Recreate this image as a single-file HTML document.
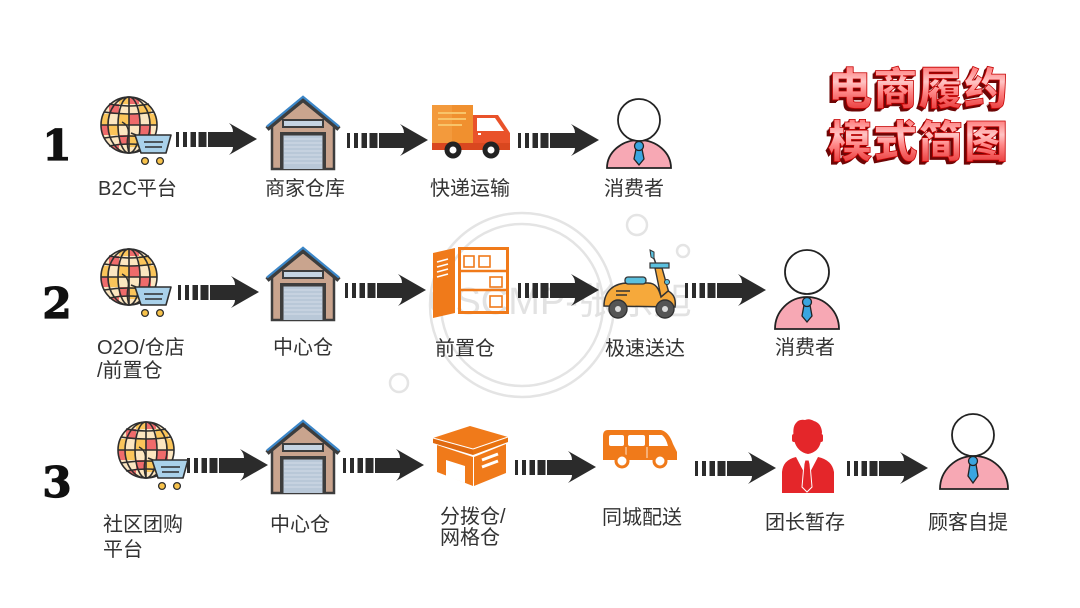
<!DOCTYPE html>
<html><head><meta charset="utf-8"><style>
html,body{margin:0;padding:0;background:#fff;}
svg{display:block;}
text{font-family:"Liberation Sans","Noto Sans CJK SC",sans-serif;}
</style></head><body>
<svg width="1080" height="608" viewBox="0 0 1080 608" xmlns="http://www.w3.org/2000/svg">
<defs>
 <clipPath id="gc"><circle cx="29" cy="29" r="28"/></clipPath>
 <g id="arr" fill="#2b2b2b">
  <rect x="0" y="9" width="3" height="15"/>
  <rect x="7" y="9" width="4" height="15"/>
  <rect x="14.5" y="9" width="5.5" height="15"/>
  <rect x="22.5" y="9" width="8" height="15"/>
  <path d="M32,9 L57,9 Q57,4 53,0 L81,16 L53,32 Q57,28 57,24 L32,24 Z"/>
 </g>
 <g id="globe">
  <g clip-path="url(#gc)">
   <rect x="0" y="0" width="60" height="60" fill="#fce6c0"/>
   <g fill="#ef6b6b">
    <rect x="9" y="8" width="10" height="10"/>
    <rect x="29" y="18" width="10" height="11"/>
    <rect x="0" y="29" width="9" height="10"/>
    <rect x="19" y="39" width="10" height="10"/>
    <rect x="39" y="29" width="12" height="10"/>
    <rect x="29" y="0" width="10" height="8"/>
    <rect x="9" y="49" width="10" height="10"/>
   </g>
   <g fill="#fbc55a">
    <rect x="19" y="0" width="10" height="8"/>
    <rect x="39" y="8" width="12" height="10"/>
    <rect x="9" y="29" width="10" height="10"/>
    <rect x="29" y="39" width="10" height="12"/>
    <rect x="0" y="18" width="9" height="11"/>
    <rect x="19" y="18" width="10" height="11"/>
    <rect x="49" y="18" width="10" height="11"/>
   </g>
  </g>
  <g fill="none" stroke="#2e2e2e" stroke-width="1.6">
   <circle cx="29" cy="29" r="28"/>
   <ellipse cx="29" cy="29" rx="11" ry="28"/>
   <ellipse cx="29" cy="29" rx="21" ry="28"/>
   <line x1="29" y1="1" x2="29" y2="57"/>
   <path d="M4,16 Q29,20 54,16"/>
   <path d="M1,29 L57,29"/>
   <path d="M4,42 Q29,38 54,42"/>
   <path d="M9,8 Q29,12 49,8"/>
   <path d="M9,50 Q29,46 49,50"/>
   <path d="M22,26 Q30,30 28,40 Q26,48 29,57" stroke-width="1.4"/>
  </g>
  <polygon points="35,39 71,39 66,57 41,57" fill="#a9d1ea" stroke="#2e2e2e" stroke-width="1.6" stroke-linejoin="round"/>
  <line x1="31" y1="37" x2="36" y2="39" stroke="#2e2e2e" stroke-width="1.6"/>
  <line x1="44" y1="46" x2="63" y2="46" stroke="#2e2e2e" stroke-width="1.4"/>
  <line x1="45" y1="51" x2="62" y2="51" stroke="#2e2e2e" stroke-width="1.4"/>
  <circle cx="45" cy="65" r="3.4" fill="#f7c24a" stroke="#2e2e2e" stroke-width="1.3"/>
  <circle cx="60" cy="65" r="3.4" fill="#f7c24a" stroke="#2e2e2e" stroke-width="1.3"/>
 </g>
 <g id="wh">
  <polygon points="6,30 37,5 68,30 68,73 6,73" fill="#c9a48e" stroke="#3d3d3d" stroke-width="2.5"/>
  <polyline points="1,33 37,3 73,33" fill="none" stroke="#3d3d3d" stroke-width="5" stroke-linejoin="miter"/>
  <polyline points="1,30.5 37,0.8 73,30.5" fill="none" stroke="#3b86c8" stroke-width="2.2"/>
  <rect x="17" y="24" width="40" height="7" fill="#c6d4e2" stroke="#3d3d3d" stroke-width="2"/>
  <rect x="14" y="36" width="46" height="37" fill="#3d3d3d"/>
  <rect x="17.5" y="39.5" width="39" height="33.5" fill="#b9c8d8"/>
  <g stroke="#d3dde8" stroke-width="1">
   <line x1="18" y1="43" x2="56" y2="43"/><line x1="18" y1="47" x2="56" y2="47"/>
   <line x1="18" y1="51" x2="56" y2="51"/><line x1="18" y1="55" x2="56" y2="55"/>
   <line x1="18" y1="59" x2="56" y2="59"/><line x1="18" y1="63" x2="56" y2="63"/>
   <line x1="18" y1="67" x2="56" y2="67"/>
  </g>
 </g>
 <linearGradient id="tg" x1="0" y1="0" x2="0" y2="1">
  <stop offset="0" stop-color="#ff3a3a"/>
  <stop offset="0.45" stop-color="#ffc4c4"/>
  <stop offset="0.6" stop-color="#ff8a8a"/>
  <stop offset="1" stop-color="#e21d1d"/>
 </linearGradient>
</defs>

<rect width="1080" height="608" fill="#fff"/>

<!-- watermark -->
<g fill="none" stroke="#e4e4e4" stroke-width="2.5">
 <circle cx="522" cy="305" r="92"/>
 <circle cx="522" cy="305" r="81"/>
 <circle cx="399" cy="383" r="9"/>
 <circle cx="637" cy="225" r="10"/>
 <circle cx="683" cy="251" r="6"/>
</g>
<text x="428" y="314" font-size="38" fill="#e2e2e2">CSCMP-张东旭</text>

<!-- numbers -->
<g font-weight="bold" font-size="42" fill="#111" stroke="#111" stroke-width="1.2" text-anchor="middle">
 <text x="57" y="160" style="font-family:'DejaVu Serif','Liberation Serif',serif">1</text>
 <text x="57" y="318" style="font-family:'DejaVu Serif','Liberation Serif',serif">2</text>
 <text x="57" y="497" style="font-family:'DejaVu Serif','Liberation Serif',serif">3</text>
</g>

<!-- title -->
<g font-size="44" font-weight="900" style="font-family:'Noto Sans CJK SC',sans-serif">
 <g fill="#6e0606">
  <text x="827" y="105" textLength="180" lengthAdjust="spacing" style="font-family:'Noto Sans CJK SC',sans-serif">电商履约</text>
  <text x="826" y="106" textLength="180" lengthAdjust="spacing" style="font-family:'Noto Sans CJK SC',sans-serif">电商履约</text>
  <text x="825" y="107" textLength="180" lengthAdjust="spacing" style="font-family:'Noto Sans CJK SC',sans-serif">电商履约</text>
  <text x="827" y="158" textLength="180" lengthAdjust="spacing" style="font-family:'Noto Sans CJK SC',sans-serif">模式简图</text>
  <text x="826" y="159" textLength="180" lengthAdjust="spacing" style="font-family:'Noto Sans CJK SC',sans-serif">模式简图</text>
  <text x="825" y="160" textLength="180" lengthAdjust="spacing" style="font-family:'Noto Sans CJK SC',sans-serif">模式简图</text>
 </g>
 <g fill="url(#tg)" stroke="#c40000" stroke-width="0.8">
  <text x="828" y="104" textLength="180" lengthAdjust="spacing" style="font-family:'Noto Sans CJK SC',sans-serif">电商履约</text>
  <text x="828" y="157" textLength="180" lengthAdjust="spacing" style="font-family:'Noto Sans CJK SC',sans-serif">模式简图</text>
 </g>
</g>

<!-- arrows -->
<use href="#arr" x="176" y="123"/>
<use href="#arr" x="347" y="124"/>
<use href="#arr" x="518" y="124"/>
<use href="#arr" x="178" y="276"/>
<use href="#arr" x="345" y="274"/>
<use href="#arr" x="518" y="274"/>
<use href="#arr" x="685" y="274"/>
<use href="#arr" x="187" y="449"/>
<use href="#arr" x="343" y="449"/>
<use href="#arr" x="515" y="451"/>
<use href="#arr" x="695" y="452"/>
<use href="#arr" x="847" y="452"/>

<!-- globes -->
<use href="#globe" x="100" y="96"/>
<use href="#globe" x="100" y="248"/>
<use href="#globe" x="117" y="421"/>

<!-- warehouses -->
<use href="#wh" x="266" y="96"/>
<use href="#wh" x="266" y="247"/>
<use href="#wh" x="266" y="420"/>

<!-- truck -->
<rect x="432" y="105" width="41" height="39" fill="#f39a3c"/>
<rect x="452" y="105" width="21" height="39" fill="#f0902f"/>
<g stroke="#f8c46a" stroke-width="2">
 <line x1="438" y1="113" x2="466" y2="113"/>
 <line x1="438" y1="119" x2="466" y2="119"/>
 <line x1="438" y1="125" x2="462" y2="125"/>
</g>
<path d="M473,115 L498,115 L510,133 L510,150 L473,150 Z" fill="#e9522a"/>
<path d="M477,118 L495,118 L504,131 L477,131 Z" fill="#fff"/>
<rect x="478" y="133" width="3" height="2" fill="#fff"/>
<rect x="432" y="143" width="78" height="7" fill="#d9471f"/>
<circle cx="453" cy="150" r="8.5" fill="#222"/><circle cx="453" cy="150" r="3.5" fill="#fff"/>
<circle cx="491" cy="150" r="8.5" fill="#222"/><circle cx="491" cy="150" r="3.5" fill="#fff"/>

<!-- consumer 1 -->
<path d="M607,168 A32,28 0 0 1 671,168 Z" fill="#f7a8b4" stroke="#222" stroke-width="1.8"/>
<circle cx="639" cy="120" r="21" fill="#fff" stroke="#222" stroke-width="1.8"/>
<polygon points="636,149 642,149 644,159 639,165 634,159" fill="#3aa5e0" stroke="#222" stroke-width="1.3"/>
<circle cx="639" cy="146" r="4.5" fill="#3aa5e0" stroke="#222" stroke-width="1.3"/>

<!-- consumer 2 -->
<path d="M775,329 A32,32 0 0 1 839,329 Z" fill="#f7a8b4" stroke="#222" stroke-width="1.8"/>
<circle cx="807" cy="272" r="22" fill="#fff" stroke="#222" stroke-width="1.8"/>
<polygon points="804,305 810,305 812,316 807,322 802,316" fill="#3aa5e0" stroke="#222" stroke-width="1.3"/>
<circle cx="807" cy="302" r="4.5" fill="#3aa5e0" stroke="#222" stroke-width="1.3"/>

<!-- consumer 3 -->
<path d="M940,489 A34,33 0 0 1 1008,489 Z" fill="#f7a8b4" stroke="#222" stroke-width="1.8"/>
<circle cx="973" cy="435" r="21" fill="#fff" stroke="#222" stroke-width="1.8"/>
<polygon points="970,464 976,464 978,476 973,483 968,476" fill="#3aa5e0" stroke="#222" stroke-width="1.3"/>
<circle cx="973" cy="461" r="4.5" fill="#3aa5e0" stroke="#222" stroke-width="1.3"/>

<!-- front warehouse -->
<polygon points="433,253 455,248 455,313 433,318" fill="#f07a1a"/>
<g stroke="#fff" stroke-width="1.6">
 <line x1="437" y1="262" x2="448" y2="259"/>
 <line x1="437" y1="267" x2="448" y2="264"/>
 <line x1="437" y1="272" x2="448" y2="269"/>
 <line x1="437" y1="277" x2="448" y2="274"/>
</g>
<rect x="459.5" y="248.5" width="48" height="64" fill="none" stroke="#f07a1a" stroke-width="3"/>
<line x1="459" y1="271" x2="508" y2="271" stroke="#f07a1a" stroke-width="2.5"/>
<line x1="459" y1="290" x2="508" y2="290" stroke="#f07a1a" stroke-width="2.5"/>
<g fill="none" stroke="#f07a1a" stroke-width="1.6">
 <rect x="464" y="256" width="10" height="11"/>
 <rect x="479" y="256" width="11" height="11"/>
 <rect x="490" y="277" width="12" height="10"/>
 <rect x="490" y="296" width="12" height="11"/>
</g>

<!-- scooter -->
<path d="M655,268 L662,268 L669,293 L661,297 Z" fill="#f6a93b" stroke="#333" stroke-width="1.4"/>
<path d="M604,306 C604,291 614,283 628,283 L648,283 C656,283 659,289 661,297 L668,291 C674,294 676,300 675,307 Z" fill="#f6a93b" stroke="#333" stroke-width="1.5"/>
<rect x="625" y="277" width="21" height="7" rx="3" fill="#5bc0de" stroke="#333" stroke-width="1.3"/>
<line x1="656" y1="264" x2="652" y2="253" stroke="#333" stroke-width="1.5"/>
<path d="M650,250 L654,252 L654,259 L651,257 Z" fill="#5bc0de" stroke="#333" stroke-width="1"/>
<rect x="650" y="263" width="19" height="5" fill="#5bc0de" stroke="#333" stroke-width="1.2"/>
<circle cx="667" cy="282" r="2.5" fill="#5bc0de" stroke="#333" stroke-width="1"/>
<line x1="616" y1="291" x2="630" y2="291" stroke="#333" stroke-width="1.5"/>
<line x1="616" y1="295" x2="627" y2="295" stroke="#333" stroke-width="1.5"/>
<circle cx="618" cy="309" r="9" fill="#555" stroke="#333" stroke-width="1.4"/>
<circle cx="618" cy="309" r="3" fill="#ddd"/>
<circle cx="665" cy="309" r="9" fill="#555" stroke="#333" stroke-width="1.4"/>
<circle cx="665" cy="309" r="3" fill="#ddd"/>

<!-- sorting warehouse -->
<polygon points="433,438 470,426 508,437 473,449" fill="#f07a1a"/>
<polygon points="433,438 473,449 473,455 433,443" fill="#e06a10"/>
<polygon points="473,449 508,437 508,442 473,455" fill="#e8720f"/>
<polygon points="437,445 473,457 473,486 437,472" fill="#f07a1a"/>
<polygon points="446,460 465,466 465,483 446,476" fill="#fff"/>
<polygon points="474,457 506,444 506,473 474,486" fill="#f07a1a"/>
<line x1="433" y1="438" x2="473" y2="449" stroke="#fff" stroke-width="1"/>
<line x1="473" y1="449" x2="508" y2="437" stroke="#fff" stroke-width="1"/>
<line x1="473.5" y1="457" x2="473.5" y2="486" stroke="#fff" stroke-width="1"/>
<line x1="482" y1="460" x2="498" y2="454" stroke="#fff" stroke-width="3"/>
<line x1="482" y1="467" x2="498" y2="461" stroke="#fff" stroke-width="3"/>

<!-- van -->
<path d="M608,430 L661,430 Q669,432 673,444 L677,452 L677,460 L603,460 L603,436 Q603,430 608,430 Z" fill="#f07a1a"/>
<rect x="609" y="435" width="15" height="11" rx="2" fill="#fff"/>
<rect x="628" y="435" width="17" height="11" rx="2" fill="#fff"/>
<path d="M649,435 L662,435 Q666,438 668,446 L649,446 Z" fill="#fff"/>
<line x1="626" y1="447" x2="626" y2="458" stroke="#fff" stroke-width="0.8"/>
<line x1="647" y1="447" x2="647" y2="458" stroke="#fff" stroke-width="0.8"/>
<circle cx="622" cy="461" r="6" fill="#fff" stroke="#f07a1a" stroke-width="3"/>
<circle cx="660" cy="461" r="6" fill="#fff" stroke="#f07a1a" stroke-width="3"/>

<!-- red man -->
<path d="M794,440 Q792,427 796,423 Q799,419 805,420 Q809,418 814,421 Q821,423 822,432 L821,441 Q819,452 808,454 Q797,452 794,440 Z" fill="#e4262a"/>
<rect x="792" y="434" width="4" height="8" rx="2" fill="#e4262a"/>
<rect x="819" y="434" width="4" height="8" rx="2" fill="#e4262a"/>
<path d="M782,493 L782,472 Q783,460 796,457 L807,478 L818,457 Q832,460 834,472 L834,493 Z" fill="#e4262a"/>
<polygon points="805,460 809,460 810,464 812,487 807,492 802,487 804,464" fill="#e4262a" stroke="#fff" stroke-width="1"/>

<!-- labels -->
<g font-size="20" fill="#333">
 <text x="98" y="195">B2C平台</text>
 <text x="265" y="195">商家仓库</text>
 <text x="430" y="195">快递运输</text>
 <text x="604" y="195">消费者</text>

 <text x="97" y="354">O2O/仓店</text>
 <text x="97" y="377">/前置仓</text>
 <text x="273" y="354">中心仓</text>
 <text x="435" y="355">前置仓</text>
 <text x="605" y="355">极速送达</text>
 <text x="775" y="354">消费者</text>

 <text x="103" y="531">社区团购</text>
 <text x="103" y="556">平台</text>
 <text x="270" y="531">中心仓</text>
 <text x="440" y="523">分拨仓/</text>
 <text x="440" y="544">网格仓</text>
 <text x="602" y="524">同城配送</text>
 <text x="765" y="529">团长暂存</text>
 <text x="928" y="529">顾客自提</text>
</g>
</svg>
</body></html>
